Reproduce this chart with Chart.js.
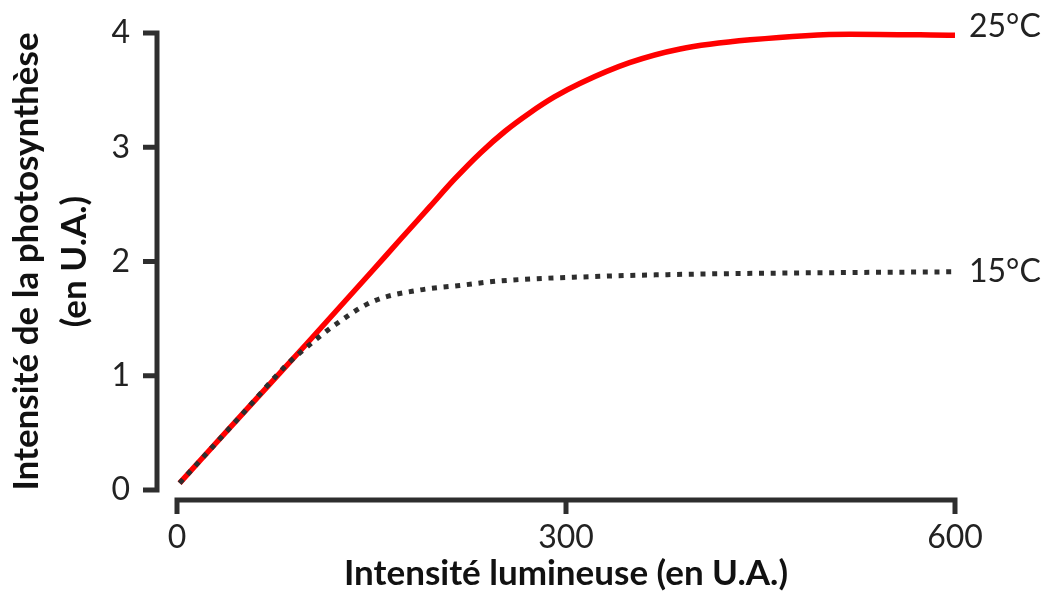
<!DOCTYPE html>
<html>
<head>
<meta charset="utf-8">
<script src="https://cdn.jsdelivr.net/npm/chart.js@4/dist/chart.umd.min.js"></script>
<style>
  html, body { margin:0; padding:0; background:#fff; }
  #wrap { width:1042px; height:592px; }
</style>
</head>
<body>
<div id="wrap"><canvas id="c" width="1042" height="592"></canvas></div>
<script>
// ---- data ----
const xTicks = [0, 300, 600];
const yTicks = [0, 1, 2, 3, 4];
const seriesNames = ['25°C', '15°C'];

const x25 = [2, 50, 100, 150, 172, 195, 214, 234, 253, 272, 291, 311, 349, 388, 442, 519, 600];
const y25 = [0.06, 0.66, 1.28, 1.91, 2.19, 2.48, 2.72, 2.95, 3.14, 3.30, 3.44, 3.56, 3.74, 3.86, 3.94, 3.99, 3.98];

const x15 = [2, 50, 85, 100, 120, 151, 187, 218, 249, 326, 403, 480, 600];
const y15 = [0.06, 0.66, 1.10, 1.25, 1.43, 1.65, 1.75, 1.79, 1.83, 1.87, 1.89, 1.90, 1.91];

const xTitle = 'Intensité lumineuse (en U.A.)';
const yTitle = ['Intensité de la photosynthèse', '(en U.A.)'];

const toPts = (xs, ys) => xs.map((x, i) => ({x: x, y: ys[i]}));

const AXIS_COLOR = '#2e2e2e';
const FONT = 'Lato';

// custom axes (detached) + end labels
const axesPlugin = {
  id: 'axesPlugin',
  afterDraw(chart) {
    const ctx = chart.ctx;
    const xs = chart.scales.x, ys = chart.scales.y;
    const yLineX = xs.getPixelForValue(0) - 20;
    const xLineY = ys.getPixelForValue(0) + 10;
    const tickLen = 14;
    ctx.save();
    ctx.strokeStyle = AXIS_COLOR;
    ctx.lineWidth = 5;
    ctx.lineJoin = 'miter';
    ctx.lineCap = 'butt';
    // y axis
    const yTop = ys.getPixelForValue(yTicks[yTicks.length - 1]);
    const yBot = ys.getPixelForValue(yTicks[0]);
    ctx.beginPath();
    ctx.moveTo(yLineX - tickLen, yTop);
    ctx.lineTo(yLineX, yTop);
    ctx.lineTo(yLineX, yBot);
    ctx.lineTo(yLineX - tickLen, yBot);
    ctx.stroke();
    yTicks.slice(1, -1).forEach(v => {
      const p = ys.getPixelForValue(v);
      ctx.beginPath();
      ctx.moveTo(yLineX - tickLen, p);
      ctx.lineTo(yLineX, p);
      ctx.stroke();
    });
    // x axis
    const xL = xs.getPixelForValue(xTicks[0]);
    const xR = xs.getPixelForValue(xTicks[xTicks.length - 1]);
    ctx.beginPath();
    ctx.moveTo(xL, xLineY + tickLen);
    ctx.lineTo(xL, xLineY);
    ctx.lineTo(xR, xLineY);
    ctx.lineTo(xR, xLineY + tickLen);
    ctx.stroke();
    xTicks.slice(1, -1).forEach(v => {
      const p = xs.getPixelForValue(v);
      ctx.beginPath();
      ctx.moveTo(p, xLineY);
      ctx.lineTo(p, xLineY + tickLen);
      ctx.stroke();
    });
    // end labels
    ctx.fillStyle = '#222';
    ctx.font = '32px ' + FONT;
    ctx.textAlign = 'left';
    ctx.textBaseline = 'middle';
    const offs = [-9, 0];
    chart.data.datasets.forEach((ds, i) => {
      const last = ds.data[ds.data.length - 1];
      ctx.fillText(seriesNames[i], xs.getPixelForValue(last.x) + 14, ys.getPixelForValue(last.y) + offs[i]);
    });
    ctx.restore();
  }
};

new Chart(document.getElementById('c'), {
  type: 'line',
  data: {
    datasets: [
      {
        label: seriesNames[0],
        data: toPts(x25, y25),
        borderColor: '#ff0000',
        borderWidth: 5.5,
        pointRadius: 0,
        cubicInterpolationMode: 'monotone',
        clip: false,
        order: 2
      },
      {
        label: seriesNames[1],
        data: toPts(x15, y15),
        borderColor: '#2e2e2e',
        borderWidth: 5,
        borderDash: [5, 6.7],
        borderCapStyle: 'butt',
        pointRadius: 0,
        cubicInterpolationMode: 'monotone',
        clip: false,
        order: 1
      }
    ]
  },
  options: {
    responsive: false,
    devicePixelRatio: 1,
    animation: false,
    layout: { padding: { top: 33, right: 87, left: 0, bottom: 0 } },
    plugins: { legend: { display: false }, tooltip: { enabled: false } },
    scales: {
      x: {
        type: 'linear',
        min: 0, max: 600,
        afterBuildTicks: s => { s.ticks = xTicks.map(v => ({value: v})); },
        afterFit: s => { s.height = 102; s.paddingLeft = 0; s.paddingRight = 0; },
        grid: { display: false, drawTicks: false },
        border: { display: false },
        ticks: { color: '#222', font: { family: FONT, size: 32 }, padding: 28, maxRotation: 0 },
        title: { display: true, text: xTitle, color: '#111', font: { family: FONT, size: 35, weight: 'bold', lineHeight: 1.05 }, padding: { top: 0, bottom: 0 } }
      },
      y: {
        type: 'linear',
        min: 0, max: 4,
        afterBuildTicks: s => { s.ticks = yTicks.map(v => ({value: v})); },
        afterFit: s => { s.width = 177; s.paddingTop = 0; s.paddingBottom = 0; },
        grid: { display: false, drawTicks: false },
        border: { display: false },
        ticks: { color: '#222', font: { family: FONT, size: 32 }, padding: 47 },
        title: { display: true, text: yTitle, color: '#111', font: { family: FONT, size: 35, weight: 'bold', lineHeight: 1.37 }, padding: { top: 3, bottom: 0 } }
      }
    }
  },
  plugins: [axesPlugin]
});
</script>
</body>
</html>
